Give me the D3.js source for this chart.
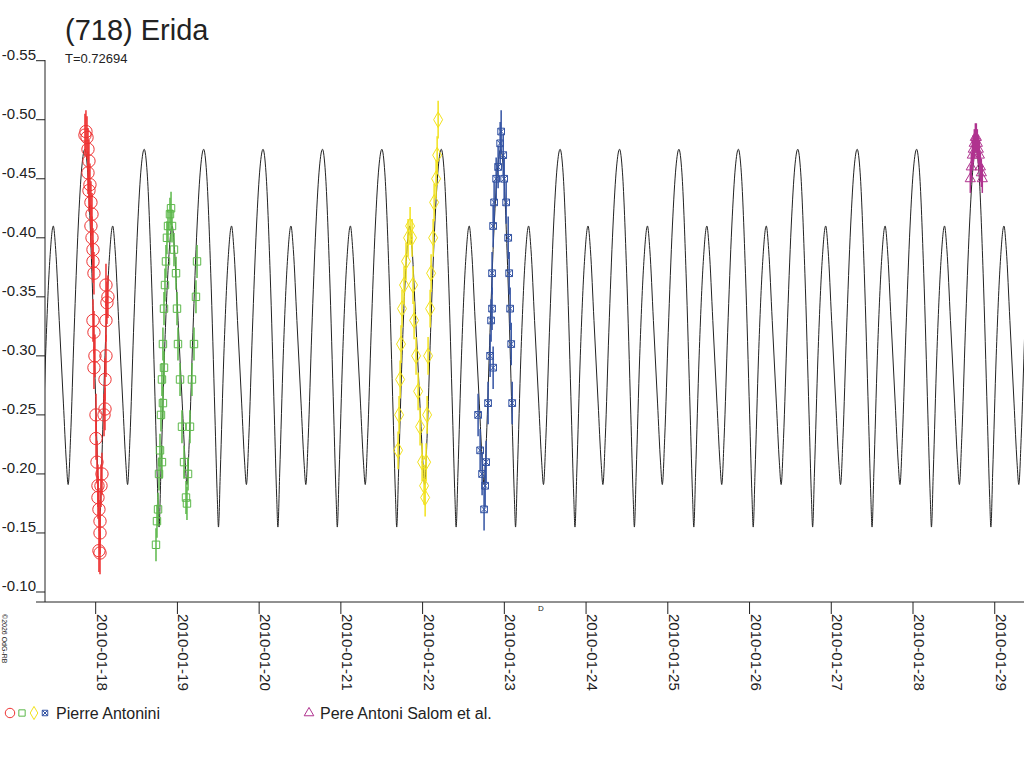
<!DOCTYPE html>
<html>
<head>
<meta charset="utf-8">
<script src="https://cdn.jsdelivr.net/npm/d3@7"></script>
<style>
body { margin: 0; background: #fff; }
text { font-family: "Liberation Sans", Arial, sans-serif; fill: #222; }
</style>
</head>
<body>
<svg id="chart" width="1024" height="768"></svg>
<script>
// days since 2010-01-18 00:00 UT, reduced magnitudes
var period = 0.72694;
var epoch = 6.024; // a secondary maximum
var profilePhase = [0, 0.04, 0.1, 0.17, 0.22, 0.25, 0.29, 0.35, 0.42, 0.48, 0.53, 0.58, 0.65, 0.72, 0.76, 0.78, 0.81, 0.87, 0.94];
var profileMag = [-0.41, -0.39, -0.33, -0.26, -0.21, -0.191, -0.23, -0.32, -0.41, -0.46, -0.475, -0.455, -0.37, -0.25, -0.18, -0.155, -0.20, -0.30, -0.38];

var redT = [-0.131, -0.119, -0.106, -0.094, -0.082, -0.094, -0.070, -0.082, -0.058, -0.045, -0.058, -0.045, -0.033, -0.033, -0.021, -0.033, -0.021, -0.009, -0.021, 0.004, 0.004, 0.016, 0.028, 0.028, 0.040, 0.053, 0.053, 0.040, 0.053, 0.065, 0.077, 0.102, 0.114, 0.126, 0.126, 0.138, 0.150, 0.126, 0.114];
var redM = [-0.487, -0.49, -0.485, -0.475, -0.465, -0.455, -0.445, -0.44, -0.43, -0.42, -0.41, -0.40, -0.39, -0.38, -0.37, -0.33, -0.32, -0.30, -0.29, -0.25, -0.23, -0.21, -0.19, -0.18, -0.17, -0.16, -0.15, -0.135, -0.133, -0.19, -0.20, -0.25, -0.28, -0.30, -0.33, -0.345, -0.35, -0.36, -0.255];

var greenT = [0.738, 0.750, 0.763, 0.775, 0.787, 0.799, 0.811, 0.823, 0.836, 0.848, 0.860, 0.872, 0.885, 0.909, 0.922, 0.934, 0.958, 0.983, 0.995, 1.007, 1.032, 1.056, 1.081, 1.105, 1.117, 1.130, 1.154, 1.178, 1.203, 1.227, 1.240, 0.811, 0.823, 0.836];
var greenM = [-0.14, -0.16, -0.17, -0.20, -0.22, -0.25, -0.28, -0.31, -0.34, -0.36, -0.38, -0.40, -0.41, -0.42, -0.425, -0.41, -0.39, -0.37, -0.34, -0.31, -0.28, -0.24, -0.21, -0.18, -0.175, -0.20, -0.24, -0.28, -0.31, -0.35, -0.38, -0.21, -0.26, -0.29];

var yellowT = [3.700, 3.712, 3.725, 3.736, 3.748, 3.773, 3.797, 3.822, 3.847, 3.871, 3.883, 3.896, 3.920, 3.945, 3.969, 3.994, 4.018, 4.031, 4.043, 4.055, 4.067, 4.092, 4.104, 4.129, 4.141, 4.165, 4.178, 4.190];
var yellowM = [-0.22, -0.25, -0.28, -0.31, -0.34, -0.36, -0.38, -0.40, -0.41, -0.40, -0.36, -0.33, -0.30, -0.27, -0.24, -0.21, -0.19, -0.18, -0.21, -0.25, -0.30, -0.34, -0.37, -0.40, -0.43, -0.45, -0.47, -0.50];

var blueT = [4.679, 4.704, 4.728, 4.752, 4.765, 4.777, 4.801, 4.826, 4.838, 4.850, 4.863, 4.875, 4.900, 4.924, 4.949, 4.961, 4.986, 4.998, 5.022, 5.047, 5.059, 5.071, 5.084, 5.096, 4.850, 4.863];
var blueM = [-0.25, -0.22, -0.20, -0.17, -0.19, -0.21, -0.26, -0.30, -0.33, -0.37, -0.41, -0.43, -0.45, -0.46, -0.48, -0.49, -0.47, -0.45, -0.43, -0.40, -0.37, -0.34, -0.31, -0.26, -0.34, -0.29];

var magT = [10.701, 10.713, 10.726, 10.738, 10.750, 10.763, 10.775, 10.787, 10.799, 10.812, 10.824, 10.836, 10.848];
var magM = [-0.45, -0.46, -0.47, -0.475, -0.48, -0.485, -0.485, -0.48, -0.475, -0.47, -0.46, -0.455, -0.45];

var sessionErr = [0.018, 0.014, 0.016, 0.018, 0.012];
var dayTicks = [0, 1, 2, 3, 4, 5, 6, 7, 8, 9, 10, 11];
var magTicks = [-0.55, -0.50, -0.45, -0.40, -0.35, -0.30, -0.25, -0.20, -0.15, -0.10];

var svg = d3.select("#chart");
var x = d3.scaleLinear().domain([-0.620, 11.358]).range([45, 1024]);
var y = d3.scaleLinear().domain([-0.55, -0.10]).range([60.7, 592]);
var base = new Date(Date.UTC(2010, 0, 18));
var fmt = d3.utcFormat("%Y-%m-%d");

// model curve
var model = [];
for (var k = -11; k <= 8; k++) {
    profilePhase.forEach(function (p, i) {
        model.push([epoch + (k + p) * period, profileMag[i]]);
    });
}
svg.append("clipPath").attr("id", "plot").append("rect")
    .attr("x", 45).attr("y", 0).attr("width", 979).attr("height", 602);
svg.append("path")
    .datum(model)
    .attr("clip-path", "url(#plot)")
    .attr("fill", "none").attr("stroke", "#222").attr("stroke-width", 1)
    .attr("d", d3.line().x(function (d) { return x(d[0]); }).y(function (d) { return y(d[1]); }).curve(d3.curveMonotoneX));

// sessions
function crossSquare(ctx, s) {
    ctx.moveTo(-s, -s); ctx.lineTo(s, -s); ctx.lineTo(s, s); ctx.lineTo(-s, s); ctx.closePath();
    ctx.moveTo(-s, -s); ctx.lineTo(s, s); ctx.moveTo(s, -s); ctx.lineTo(-s, s);
}
var sessions = [
    { t: redT, m: redM, color: "#ee3333", type: d3.symbolCircle, size: 120 },
    { t: greenT, m: greenM, color: "#5cb84a", type: d3.symbolSquare, size: 55 },
    { t: yellowT, m: yellowM, color: "#f2e21c", type: d3.symbolDiamond, size: 70 },
    { t: blueT, m: blueM, color: "#3353a3", type: { draw: function (ctx, size) { crossSquare(ctx, Math.sqrt(size) / 2); } }, size: 45 },
    { t: magT, m: magM, color: "#b0338f", type: d3.symbolTriangle, size: 45 }
];
sessions.forEach(function (s, si) {
    var g = svg.append("g");
    var e = sessionErr[si];
    s.t.forEach(function (t, i) {
        g.append("line")
            .attr("x1", x(t)).attr("x2", x(t))
            .attr("y1", y(s.m[i] - e)).attr("y2", y(s.m[i] + e))
            .attr("stroke", s.color).attr("stroke-width", 1.5);
        g.append("path")
            .attr("transform", "translate(" + x(t) + "," + y(s.m[i]) + ")")
            .attr("d", d3.symbol().type(s.type).size(s.size)())
            .attr("fill", "none").attr("stroke", s.color).attr("stroke-width", 1);
    });
});

// axes
svg.append("line").attr("x1", 45).attr("x2", 45).attr("y1", 60).attr("y2", 602).attr("stroke", "#222");
svg.append("line").attr("x1", 36).attr("x2", 1024).attr("y1", 602).attr("y2", 602).attr("stroke", "#222");
magTicks.forEach(function (m) {
    svg.append("line").attr("x1", 36).attr("x2", 45).attr("y1", y(m)).attr("y2", y(m)).attr("stroke", "#222");
    svg.append("text").attr("x", 36).attr("y", y(m) - 1).attr("text-anchor", "end")
        .attr("font-size", 15).text(m.toFixed(2));
});
dayTicks.forEach(function (d) {
    var px = x(d);
    svg.append("line").attr("x1", px).attr("x2", px).attr("y1", 602).attr("y2", 614).attr("stroke", "#222");
    svg.append("text").attr("transform", "translate(" + (px + 1) + ",614) rotate(90)")
        .attr("font-size", 15).text(fmt(d3.utcDay.offset(base, d)));
});
svg.append("text").attr("x", 538).attr("y", 611).attr("font-size", 8).text("D");

// titles
svg.append("text").attr("x", 65).attr("y", 40).attr("font-size", 29).text("(718) Erida");
svg.append("text").attr("x", 65).attr("y", 63).attr("font-size", 13).text("T=0.72694");
svg.append("text").attr("transform", "translate(2,614) rotate(90)").attr("font-size", 7).text("©2026 OdG-RB");

// legend
var legendA = svg.append("g").attr("transform", "translate(0,713)");
sessions.slice(0, 4).forEach(function (s, i) {
    legendA.append("path")
        .attr("transform", "translate(" + [10, 22, 34, 45][i] + ",0)")
        .attr("d", d3.symbol().type(s.type).size([70, 40, 50, 30][i])())
        .attr("fill", "none").attr("stroke", s.color);
});
legendA.append("text").attr("x", 56).attr("y", 6).attr("font-size", 16).text("Pierre Antonini");
legendA.append("path").attr("transform", "translate(309,0)")
    .attr("d", d3.symbol().type(d3.symbolTriangle).size(40)())
    .attr("fill", "none").attr("stroke", sessions[4].color);
legendA.append("text").attr("x", 320).attr("y", 6).attr("font-size", 16).text("Pere Antoni Salom et al.");
</script>
</body>
</html>
